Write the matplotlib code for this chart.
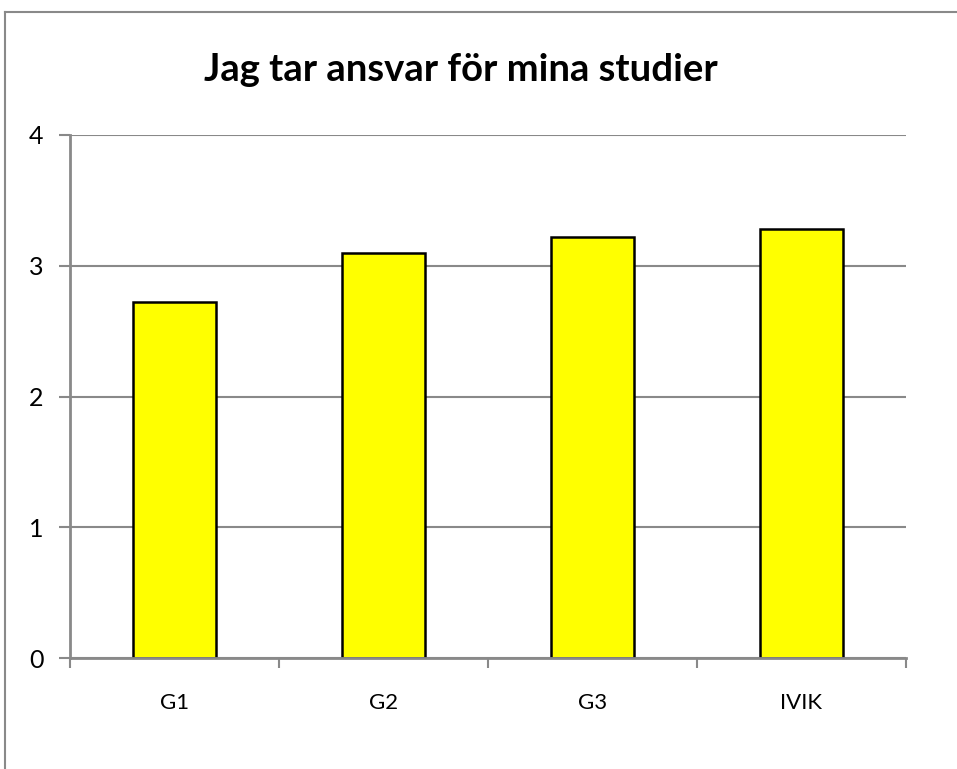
import matplotlib.pyplot as plt
from matplotlib.lines import Line2D

plt.rcParams['font.family'] = ['Lato', 'DejaVu Sans']

groups = ['G1', 'G2', 'G3', 'IVIK']
values = [2.72, 3.10, 3.22, 3.28]
yticks = [0, 1, 2, 3, 4]

grey = '#898989'

fig = plt.figure(figsize=(9.57, 7.69), dpi=100)
# outer chart frame: only its top and left edges fall inside the image
fy = 1 - 12/769
fx = 5/957
fig.lines.append(Line2D([fx, 1.0], [fy, fy], transform=fig.transFigure,
                        color=grey, linewidth=1.5))
fig.lines.append(Line2D([fx, fx], [0.0, fy], transform=fig.transFigure,
                        color=grey, linewidth=1.5))

ax = fig.add_axes([70/957, 1 - 658/769, 836/957, 523/769])
x = range(len(groups))
ax.bar(x, values, width=0.4, color='#ffff00', edgecolor='black',
       linewidth=1.8, zorder=3)

ax.set_xlim(-0.5, len(groups) - 0.5)
ax.set_ylim(0, 4)
ax.set_yticks(yticks)
ax.set_yticklabels([str(t) for t in yticks], fontsize=18)
ax.set_xticks(list(x))
ax.set_xticklabels(groups, fontsize=16)
ax.tick_params(axis='x', length=0, pad=25)
ax.set_xticks([i - 0.5 for i in range(len(groups) + 1)], minor=True)
ax.tick_params(axis='x', which='minor', length=7, width=1.5, color=grey)
ax.tick_params(axis='y', length=8, width=1.5, color=grey, pad=11)
ax.yaxis.grid(True, color=grey, linewidth=1.5, zorder=0)
ax.set_axisbelow(True)
for s in ['top', 'right']:
    ax.spines[s].set_visible(False)
for s in ['left', 'bottom']:
    ax.spines[s].set_color(grey)
    ax.spines[s].set_linewidth(2)
    ax.spines[s].set_zorder(4)

fig.text(461/957, 1 - 70/769, 'Jag tar ansvar för mina studier',
         ha='center', va='center', fontsize=27.5, fontweight='bold')

fig.savefig('out.png', dpi=100)
